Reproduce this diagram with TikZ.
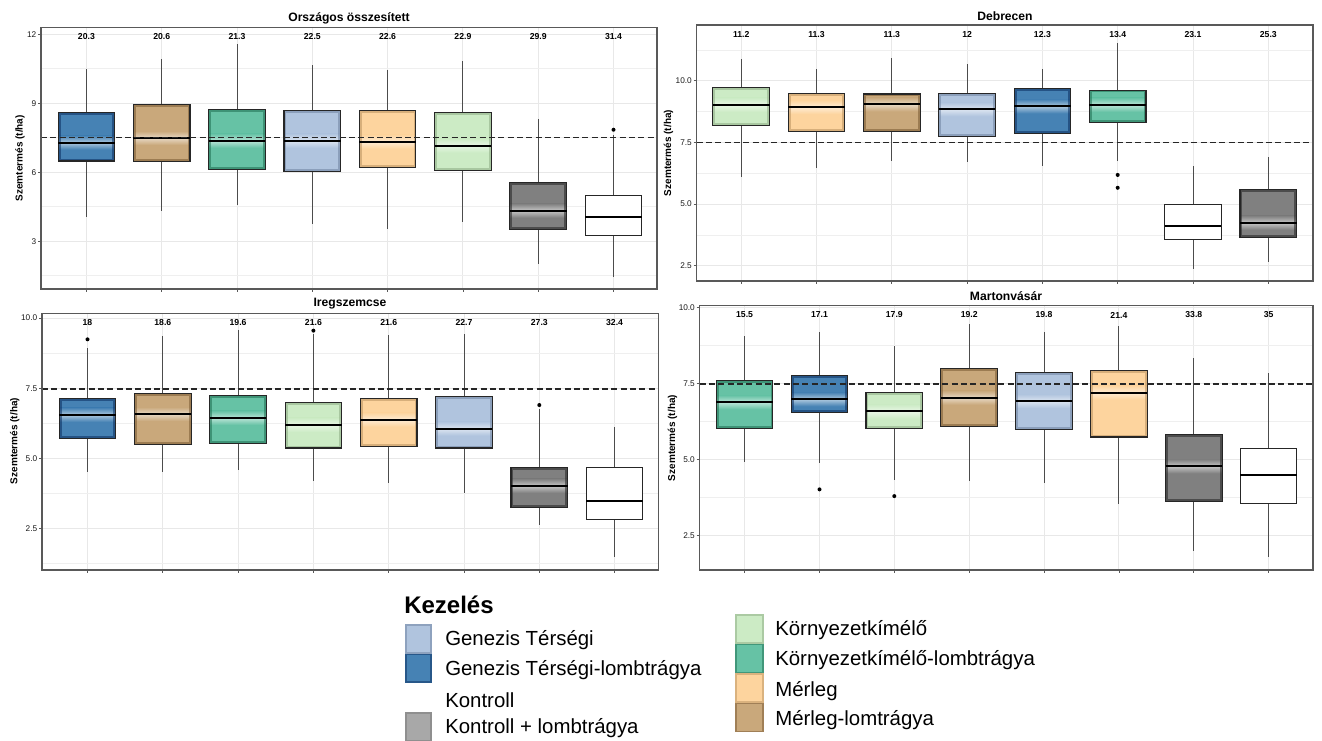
\documentclass[tikz,border=0pt]{standalone}
\usepackage{fontspec}
\setmainfont{Liberation Sans}
\definecolor{LB}{RGB}{176,196,222}
\definecolor{LBd}{RGB}{110,130,160}
\definecolor{DB}{RGB}{70,130,180}
\definecolor{DBd}{RGB}{10,45,95}
\definecolor{TN}{RGB}{201,168,123}
\definecolor{TNd}{RGB}{120,88,50}
\definecolor{GR}{RGB}{102,194,165}
\definecolor{GRd}{RGB}{30,110,80}
\definecolor{OR}{RGB}{253,212,158}
\definecolor{ORd}{RGB}{185,145,95}
\definecolor{LG}{RGB}{204,235,197}
\definecolor{LGd}{RGB}{140,170,130}
\definecolor{GY}{RGB}{128,128,128}
\definecolor{GYd}{RGB}{35,35,35}
\definecolor{WH}{RGB}{255,255,255}
\definecolor{WHd}{RGB}{255,255,255}
\definecolor{GYL}{RGB}{168,168,168}
\definecolor{GYLd}{RGB}{120,120,120}
\definecolor{gridc}{RGB}{232,232,232}
\tikzset{
  gridmajor/.style={draw=gridc, line width=0.75pt},
  gridminor/.style={draw=gridc!70!white, line width=0.5pt},
  whisk/.style={draw=black!70, line width=0.75pt},
  boxline/.style={draw=black!85, line width=0.8pt},
  medline/.style={draw=black, line width=1.5pt},
  meanline/.style={draw=black!85, line width=0.85pt, dash pattern=on 4.5pt off 2.5pt},
  frameline/.style={draw=black!65, line width=0.9pt},
  tickline/.style={draw=black!65, line width=0.6pt},
  ticklab/.style={font=\fontsize{6.2}{7}\selectfont, text=black!90, anchor=east, inner sep=0pt},
  numlab/.style={font=\bfseries\fontsize{6.5}{8}\selectfont, inner sep=0pt},
  axt/.style={font=\bfseries\fontsize{7.5}{9}\selectfont, rotate=90, inner sep=0pt},
  ttl/.style={font=\bfseries\fontsize{9.1}{11}\selectfont, inner sep=0pt},
  legt/.style={font=\fontsize{15.3}{18}\selectfont, anchor=west, inner sep=0pt},
  legh/.style={font=\bfseries\fontsize{18}{21}\selectfont, anchor=west, inner sep=0pt},
}
\def\hw{28.3}
% x, color, whisker-bottom, box-bottom, median, box-top, whisker-top
\newcommand{\bx}[7]{%
  \draw[whisk] (#1,#4) -- (#1,#3);
  \draw[whisk] (#1,#6) -- (#1,#7);
  \fill[#2] ({#1-\hw},#4) rectangle ({#1+\hw},#6);
  \begin{scope}
    \clip ({#1-\hw},#4) rectangle ({#1+\hw},#6);
    \shade[top color=#2, bottom color=#2, middle color=#2!45!white]
      ({#1-\hw},{#5-7/\ps}) rectangle ({#1+\hw},{#5+7/\ps});
    \draw[#2d, line width=1.8pt, opacity=.55]
      ({#1-\hw+1.2},{#4+1.2/\ps}) rectangle ({#1+\hw-1.2},{#6-1.2/\ps});
  \end{scope}
  \draw[boxline] ({#1-\hw},#4) rectangle ({#1+\hw},#6);
  \draw[medline] ({#1-\hw},#5) -- ({#1+\hw},#5);
}
\newcommand{\outl}[2]{\fill[black] (#1,#2) circle (1.5pt);}
\begin{document}
\begin{tikzpicture}[x=0.75pt,y=-0.75pt]
\useasboundingbox (0,0) rectangle (1322,740);
\clip (0,0) rectangle (1322,740);

% ================= Panel 1: Országos összesített =================
\def\pL{41}\def\pR{657}\def\pT{27.3}\def\pB{289}
\foreach \xx in {86.4,161.7,237,312.3,387.6,462.9,538.2,613.5}{
  \draw[gridmajor] (\xx,\pT) -- (\xx,\pB);
  \draw[tickline] (\xx,\pB) -- (\xx,\pB+3);
}
\begin{scope}[yshift=-232.65pt, y=17.2425pt]
  \def\ps{22.99}
  \foreach \v in {1.5,4.5,7.5,10.5} \draw[gridminor] (\pL,\v) -- (\pR,\v);
  \foreach \v in {3,6,9,12}{
    \draw[gridmajor] (\pL,\v) -- (\pR,\v);
    \draw[tickline] (\pL-3,\v) -- (\pL,\v);
    \node[ticklab] (ya\v) at (\pL-4.5,\v) {\v};
  }
  \bx{86.4}{DB}{4.04}{6.49}{7.29}{8.58}{10.49}
  \bx{161.7}{TN}{4.32}{6.46}{7.49}{8.93}{10.91}
  \bx{237}{GR}{4.56}{6.11}{7.37}{8.72}{11.57}
  \bx{312.3}{LB}{3.74}{6.03}{7.37}{8.67}{10.65}
  \bx{387.6}{OR}{3.53}{6.22}{7.33}{8.70}{10.43}
  \bx{462.9}{LG}{3.83}{6.06}{7.16}{8.58}{10.84}
  \bx{538.2}{GY}{2.00}{3.50}{4.33}{5.55}{8.33}
  \bx{613.5}{WH}{1.45}{3.23}{4.04}{4.98}{7.60}
  \outl{613.5}{7.85}
  \draw[meanline] (\pL,7.53) -- (\pR,7.53);
\end{scope}
\draw[frameline] (\pL,\pT) rectangle (\pR,\pB);
\foreach \xx/\n [count=\i] in {86.4/20.3,161.7/20.6,237/21.3,312.3/22.5,387.6/22.6,462.9/22.9,538.2/29.9,613.5/31.4}
  \node[numlab] (na\i) at (\xx,36.7) {\n};
\node[ttl] (ta) at (349,18.3) {Országos összesített};
\node[axt] (aa) at (20,158.2) {Szemtermés (t/ha)};

% ================= Panel 2: Debrecen =================
\def\pL{696.6}\def\pR{1313}\def\pT{25}\def\pB{281}
\foreach \xx in {741.2,816.5,891.8,967.1,1042.4,1117.7,1193,1268.3}{
  \draw[gridmajor] (\xx,\pT) -- (\xx,\pB);
  \draw[tickline] (\xx,\pB) -- (\xx,\pB+3);
}
\begin{scope}[yshift=-245.55pt, y=18.5025pt]
  \def\ps{24.67}
  \foreach \v in {3.75,6.25,8.75,11.25} \draw[gridminor] (\pL,\v) -- (\pR,\v);
  \foreach \v/\t in {2.5/2.5,5/5.0,7.5/7.5,10/10.0}{
    \draw[gridmajor] (\pL,\v) -- (\pR,\v);
    \draw[tickline] (\pL-3,\v) -- (\pL,\v);
    \node[ticklab] (yb\t) at (\pL-4.5,\v) {\t};
  }
  \bx{741.2}{LG}{6.11}{8.18}{9.02}{9.72}{10.87}
  \bx{816.5}{OR}{6.45}{7.95}{8.93}{9.49}{10.46}
  \bx{891.8}{TN}{6.76}{7.95}{9.04}{9.46}{10.92}
  \bx{967.1}{LB}{6.70}{7.75}{8.84}{9.49}{10.66}
  \bx{1042.4}{DB}{6.54}{7.85}{8.96}{9.68}{10.49}
  \bx{1117.7}{GR}{6.73}{8.29}{9.02}{9.62}{11.54}
  \bx{1193}{WH}{2.38}{3.57}{4.12}{5.00}{6.55}
  \bx{1268.3}{GY}{2.64}{3.64}{4.24}{5.60}{6.89}
  \outl{1117.7}{6.18}
  \outl{1117.7}{5.66}
  \draw[meanline] (\pL,7.5) -- (\pR,7.5);
\end{scope}
\draw[frameline] (\pL,\pT) rectangle (\pR,\pB);
\foreach \xx/\n [count=\i] in {741.2/11.2,816.5/11.3,891.8/11.3,967.1/12,1042.4/12.3,1117.7/13.4,1193/23.1,1268.3/25.3}
  \node[numlab] (nb\i) at (\xx,34.3) {\n};
\node[ttl] (tb) at (1005,16) {Debrecen};
\node[axt] (ab) at (668.4,153) {Szemtermés (t/ha)};

% ================= Panel 3: Iregszemcse =================
\def\pL{42}\def\pR{658.7}\def\pT{313.3}\def\pB{570}
\foreach \xx in {87.5,162.8,238.1,313.4,388.7,464,539.3,614.6}{
  \draw[gridmajor] (\xx,\pT) -- (\xx,\pB);
  \draw[tickline] (\xx,\pB) -- (\xx,\pB+3);
}
\begin{scope}[yshift=-449.1pt, y=21.06pt]
  \def\ps{28.08}
  \foreach \v in {1.25,3.75,6.25,8.75} \draw[gridminor] (\pL,\v) -- (\pR,\v);
  \foreach \v/\t in {2.5/2.5,5/5.0,7.5/7.5,10/10.0}{
    \draw[gridmajor] (\pL,\v) -- (\pR,\v);
    \draw[tickline] (\pL-3,\v) -- (\pL,\v);
    \node[ticklab] (yc\t) at (\pL-4.5,\v) {\t};
  }
  \bx{87.5}{DB}{4.53}{5.70}{6.55}{7.12}{8.94}
  \bx{162.8}{TN}{4.52}{5.49}{6.58}{7.32}{9.37}
  \bx{238.1}{GR}{4.59}{5.54}{6.44}{7.23}{9.56}
  \bx{313.4}{LG}{4.21}{5.37}{6.19}{6.98}{9.42}
  \bx{388.7}{OR}{4.13}{5.44}{6.38}{7.14}{9.38}
  \bx{464}{LB}{3.78}{5.37}{6.06}{7.21}{9.44}
  \bx{539.3}{GY}{2.62}{3.26}{4.02}{4.67}{6.77}
  \bx{614.6}{WH}{1.49}{2.81}{3.49}{4.68}{6.12}
  \outl{87.5}{9.24}
  \outl{313.4}{9.55}
  \outl{539.3}{6.90}
  \draw[meanline] (\pL,7.47) -- (\pR,7.47);
\end{scope}
\draw[frameline] (\pL,\pT) rectangle (\pR,\pB);
\foreach \xx/\n [count=\i] in {87.5/18,162.8/18.6,238.1/19.6,313.4/21.6,388.7/21.6,464/22.7,539.3/27.3,614.6/32.4}
  \node[numlab] (nc\i) at (\xx,322.3) {\n};
\node[ttl] (tc) at (350,303.3) {Iregszemcse};
\node[axt] (ac) at (14.7,441) {Szemtermés (t/ha)};

% ================= Panel 4: Martonvásár =================
\def\pL{699.6}\def\pR{1313}\def\pT{305.7}\def\pB{570}
\foreach \xx in {744.6,819.5,894.3,969.2,1044,1118.9,1193.8,1268.6}{
  \draw[gridmajor] (\xx,\pT) -- (\xx,\pB);
  \draw[tickline] (\xx,\pB) -- (\xx,\pB+3);
}
\begin{scope}[yshift=-458.85pt, y=22.8375pt]
  \def\ps{30.45}
  \foreach \v in {3.75,6.25,8.75} \draw[gridminor] (\pL,\v) -- (\pR,\v);
  \foreach \v/\t in {2.5/2.5,5/5.0,7.5/7.5,10/10.0}{
    \draw[gridmajor] (\pL,\v) -- (\pR,\v);
    \draw[tickline] (\pL-3,\v) -- (\pL,\v);
    \node[ticklab] (yd\t) at (\pL-4.5,\v) {\t};
  }
  \bx{744.6}{GR}{4.93}{6.03}{6.88}{7.60}{9.05}
  \bx{819.5}{DB}{4.89}{6.54}{6.98}{7.75}{9.19}
  \bx{894.3}{LG}{4.33}{6.01}{6.58}{7.21}{8.72}
  \bx{969.2}{TN}{4.30}{6.09}{7.03}{7.98}{9.45}
  \bx{1044}{LB}{4.24}{5.99}{6.92}{7.85}{9.19}
  \bx{1118.9}{OR}{3.55}{5.74}{7.20}{7.92}{9.38}
  \bx{1193.8}{GY}{2.00}{3.61}{4.78}{5.81}{8.33}
  \bx{1268.6}{WH}{1.79}{3.55}{4.49}{5.37}{7.85}
  \outl{819.5}{4.02}
  \outl{894.3}{3.80}
  \draw[meanline] (\pL,7.48) -- (\pR,7.48);
\end{scope}
\draw[frameline] (\pL,\pT) rectangle (\pR,\pB);
\foreach \xx/\n [count=\i] in {744.6/15.5,819.5/17.1,894.3/17.9,969.2/19.2,1044/19.8,1118.9/21.4,1193.8/33.8,1268.6/35}
  \node[numlab] (nd\i) at (\xx,315) {\n};
\node[ttl] (td) at (1006,295.7) {Martonvásár};
\node[axt] (ad) at (672.6,438) {Szemtermés (t/ha)};

% ================= Legend =================
\node[legh] (lh) at (404,605) {Kezelés};
\foreach \c/\y in {LB/624.3,DB/653.6,WH/682.9,GYL/712.2}{
  \fill[\c] (405,\y) rectangle (432,\y+29.3);
}
\foreach \c/\y in {LB/624.3,DB/653.6,GYL/712.2}{
  \draw[\c d, line width=1.2pt, opacity=.5] (405.8,\y+0.8) rectangle (431.2,\y+28.5);
}
\node[legt] (l1) at (445,640) {Genezis Térségi};
\node[legt] (l2) at (445,670) {Genezis Térségi-lombtrágya};
\node[legt] (l3) at (445,700) {Kontroll};
\node[legt] (l4) at (445,728.5) {Kontroll + lombtrágya};
\foreach \c/\y in {LG/614.3,GR/643.8,OR/673.3,TN/702.8}{
  \fill[\c] (735,\y) rectangle (764,\y+29.5);
  \draw[\c d, line width=1.2pt, opacity=.5] (735.8,\y+0.8) rectangle (763.2,\y+28.7);
}
\node[legt] (r1) at (775,630) {Környezetkímélő};
\node[legt] (r2) at (775,660) {Környezetkímélő-lombtrágya};
\node[legt] (r3) at (775,691.5) {Mérleg};
\node[legt] (r4) at (775,720) {Mérleg-lomtrágya};
\end{tikzpicture}
\end{document}
